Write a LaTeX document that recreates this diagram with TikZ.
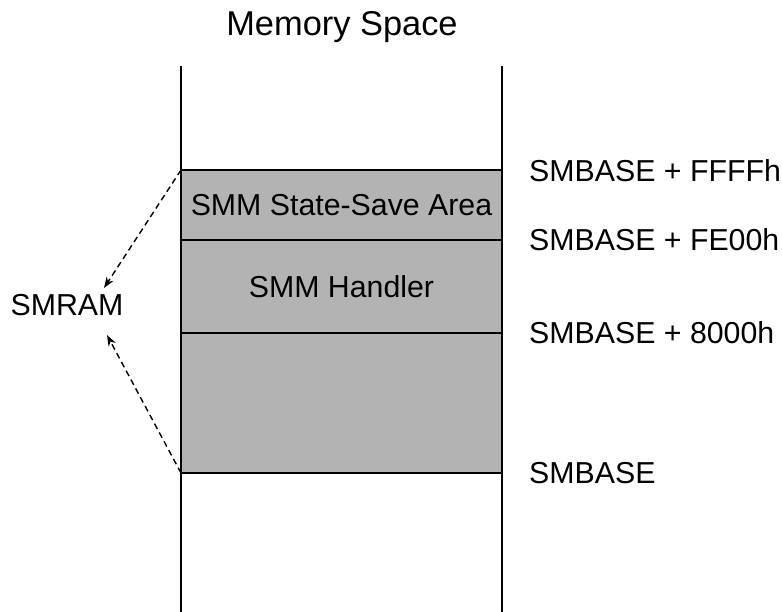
\documentclass[tikz,border=0pt]{standalone}
\usepackage{fontspec}
\setmainfont{Liberation Sans}
\usetikzlibrary{arrows.meta}
\definecolor{regiongray}{RGB}{179,179,179}
\tikzset{
  wall/.style={line width=1.8pt},
  divider/.style={line width=1.8pt},
  lbl/.style={font=\fontsize{30.3}{36}\selectfont, inner sep=0pt},
  addr/.style={lbl, anchor=west},
  pointer/.style={line width=1.4pt, dash pattern=on 6pt off 4pt,
    -{Stealth[length=11pt,width=8pt,inset=3.5pt]}}
}
\begin{document}
\begin{tikzpicture}[x=1pt,y=-1pt]
  \useasboundingbox (0,0) rectangle (782,612);
  % SMRAM region
  \coordinate (tl) at (181,170);
  \coordinate (tr) at (502,170);
  \coordinate (ssabot) at (502,240);
  \coordinate (hbot) at (502,333);
  \coordinate (bl) at (181,473);
  \coordinate (br) at (502,473);
  \fill[regiongray] (tl) rectangle (br);
  \draw[divider] (tl) -- (tr);
  \draw[divider] (181,240) -- (ssabot);
  \draw[divider] (181,333) -- (hbot);
  \draw[divider] (bl) -- (br);
  % address space walls
  \coordinate (lt) at (181,66);
  \coordinate (lb) at (181,612);
  \coordinate (rt) at (502,66);
  \coordinate (rb) at (502,612);
  \draw[wall] (lt) -- (lb);
  \draw[wall] (rt) -- (rb);
  % titles and labels
  \node[lbl, font=\fontsize{34.4}{40}\selectfont, anchor=base] (title) at (342,35.5) {Memory Space};
  \node[lbl] (ssa) at (341.5,205) {SMM State-Save Area};
  \node[lbl] (handler) at (341.5,287) {SMM Handler};
  \node[addr] (aFFFF) at (529,171) {SMBASE + FFFFh};
  \node[addr] (aFE00) at (529,240) {SMBASE + FE00h};
  \node[addr] (a8000) at (529,333) {SMBASE + 8000h};
  \node[addr] (abase) at (529,473) {SMBASE};
  \node[lbl] (smram) at (67,305) {SMRAM};
  % pointers to SMRAM
  \coordinate (t1) at (104,288);
  \coordinate (t2) at (107,335);
  \draw[pointer] (tl) -- (t1);
  \draw[pointer] (bl) -- (t2);
\end{tikzpicture}
\end{document}
